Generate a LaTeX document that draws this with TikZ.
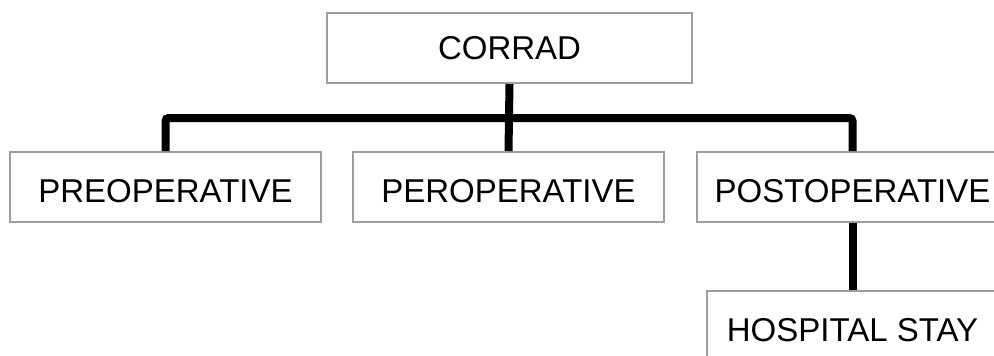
\documentclass[tikz,border=0pt]{standalone}
\usepackage{fontspec}
\setmainfont{Liberation Sans}
\begin{document}
\begin{tikzpicture}[x=1pt,y=-1pt,
  box/.style={draw=black!38, line width=2pt, fill=white, inner sep=0pt,
    minimum height=70pt, font=\fontsize{33}{40}\selectfont},
  lowtext/.style={text height=31pt, text depth=0pt},
  link/.style={line width=8pt, black, rounded corners=3pt}]
\useasboundingbox (0,0) rectangle (994,356);
\clip (0,0) rectangle (994,356);
% boxes
\node[box, minimum width=365pt] (corrad) at (509.5,48) {CORRAD};
\node[box, lowtext, minimum width=311pt] (pre)  at (165.5,187) {PREOPERATIVE};
\node[box, lowtext, minimum width=311pt] (peri) at (508.5,187) {PEROPERATIVE};
\node[box, lowtext, minimum width=311pt] (post) at (852.5,187) {POSTOPERATIVE};
\node[box, lowtext, minimum width=291pt] (hosp) at (852.5,326) {HOSPITAL STAY};
% bus line under the root
\coordinate (bus) at (508.5,118);
\draw[link] (corrad.south) -- (peri.north);
\draw[link] (pre.north) |- (bus) -| (post.north);
\draw[link] (post.south) -- (hosp.north);
\end{tikzpicture}
\end{document}
